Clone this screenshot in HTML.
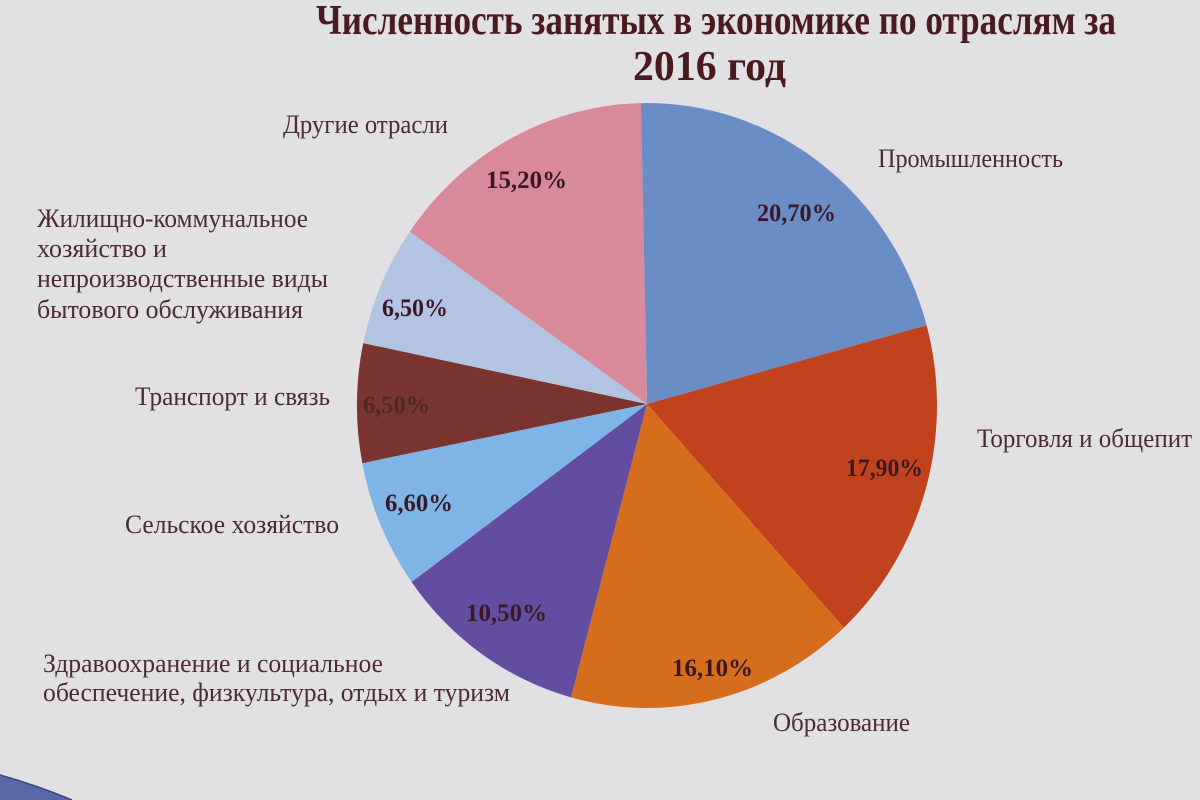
<!DOCTYPE html>
<html>
<head>
<meta charset="utf-8">
<style>
  html, body { margin:0; padding:0; width:1200px; height:800px; overflow:hidden; background:#e1e1e3; }
  svg { display:block; }
  .lbl { font-family:"Liberation Serif","Noto Serif CJK SC",serif; font-size:26px; fill:#4d2a35; }
  .pct { font-family:"Liberation Serif","Noto Serif CJK SC",serif; font-size:25px; font-weight:bold; fill:#3a1828; }
  .ttl { font-family:"Liberation Serif","Noto Serif CJK SC",serif; font-size:42px; font-weight:bold; fill:#4a1a1e; }
</style>
</head>
<body>
<svg width="1200" height="800" viewBox="0 0 1200 800" xmlns="http://www.w3.org/2000/svg">
  <rect x="0" y="0" width="1200" height="800" fill="#e1e1e3"/>

  <!-- Title -->
  <text class="ttl" x="316" y="34" textLength="800" lengthAdjust="spacingAndGlyphs">Численность занятых в экономике по отраслям за</text>
  <text class="ttl" x="633" y="80" textLength="153" lengthAdjust="spacingAndGlyphs">2016 год</text>

  <!-- Pie slices -->
  <g>
    <path d="M647,404 L640.9,103.1 A290,302.5 0 0,1 926.6,325.2 Z" fill="#6b8dc5"/>
    <path d="M647,404 L926.6,325.2 A290,302.5 0 0,1 843.9,627.6 Z" fill="#c0431e"/>
    <path d="M647,404 L843.9,627.6 A290,302.5 0 0,1 571,697.4 Z" fill="#d56d1c"/>
    <path d="M647,404 L571,697.4 A290,302.5 0 0,1 411.6,582 Z" fill="#634da0"/>
    <path d="M647,404 L411.6,582 A290,302.5 0 0,1 362.3,463.2 Z" fill="#7fb5e6"/>
    <path d="M647,404 L362.3,463.2 A290,302.5 0 0,1 363.2,343.1 Z" fill="#7a3430"/>
    <path d="M647,404 L363.2,343.1 A290,302.5 0 0,1 409.8,231.6 Z" fill="#b3c3e2"/>
    <path d="M647,404 L409.8,231.6 A290,302.5 0 0,1 640.9,103.1 Z" fill="#d8899a"/>
  </g>

  <!-- Percent labels -->
  <text class="pct" x="757" y="221" textLength="79" lengthAdjust="spacingAndGlyphs">20,70%</text>
  <text class="pct" x="846" y="476" textLength="77" lengthAdjust="spacingAndGlyphs">17,90%</text>
  <text class="pct" x="672" y="676" textLength="81" lengthAdjust="spacingAndGlyphs">16,10%</text>
  <text class="pct" x="466" y="621" textLength="81" lengthAdjust="spacingAndGlyphs">10,50%</text>
  <text class="pct" x="385" y="511" textLength="68" lengthAdjust="spacingAndGlyphs">6,60%</text>
  <text class="pct" x="363" y="413" textLength="67" lengthAdjust="spacingAndGlyphs" style="fill:#4e2a22">6,50%</text>
  <text class="pct" x="382" y="316" textLength="66" lengthAdjust="spacingAndGlyphs">6,50%</text>
  <text class="pct" x="486" y="188" textLength="81" lengthAdjust="spacingAndGlyphs">15,20%</text>

  <!-- Category labels -->
  <text class="lbl" x="878" y="167" textLength="185" lengthAdjust="spacingAndGlyphs">Промышленность</text>
  <text class="lbl" x="977" y="447" textLength="215" lengthAdjust="spacingAndGlyphs">Торговля и общепит</text>
  <text class="lbl" x="773" y="731" textLength="137" lengthAdjust="spacingAndGlyphs">Образование</text>
  <text class="lbl" x="43" y="672" textLength="340" lengthAdjust="spacingAndGlyphs">Здравоохранение и социальное</text>
  <text class="lbl" x="43" y="701" textLength="467" lengthAdjust="spacingAndGlyphs">обеспечение, физкультура, отдых и туризм</text>
  <text class="lbl" x="125" y="533" textLength="214" lengthAdjust="spacingAndGlyphs">Сельское хозяйство</text>
  <text class="lbl" x="135" y="405" textLength="195" lengthAdjust="spacingAndGlyphs">Транспорт и связь</text>
  <text class="lbl" x="37" y="227" textLength="271" lengthAdjust="spacingAndGlyphs">Жилищно-коммунальное</text>
  <text class="lbl" x="37" y="257" textLength="130" lengthAdjust="spacingAndGlyphs">хозяйство и</text>
  <text class="lbl" x="37" y="287" textLength="291" lengthAdjust="spacingAndGlyphs">непроизводственные виды</text>
  <text class="lbl" x="37" y="318" textLength="266" lengthAdjust="spacingAndGlyphs">бытового обслуживания</text>
  <text class="lbl" x="283" y="133" textLength="165" lengthAdjust="spacingAndGlyphs">Другие отрасли</text>

  <!-- Bottom-left swoosh -->
  <path d="M0,775 Q36,785 72,800 L0,800 Z" fill="#5868a8"/>
  <path d="M0,775 Q36,785 72,800" fill="none" stroke="#3c4680" stroke-width="1.5"/>
</svg>
</body>
</html>
